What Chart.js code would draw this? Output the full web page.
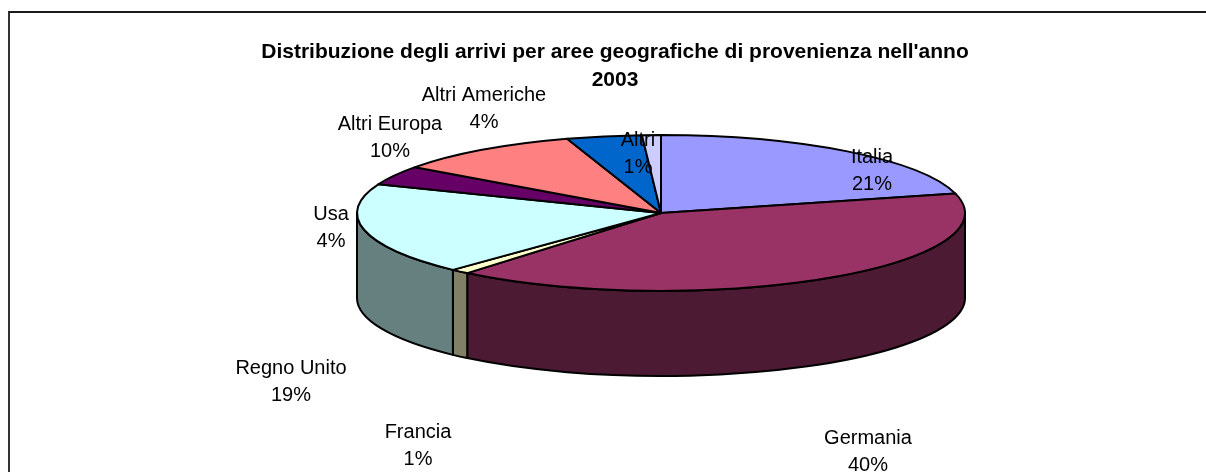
<!DOCTYPE html>
<html>
<head>
<meta charset="utf-8">
<script src="https://cdn.jsdelivr.net/npm/chart.js@4/dist/chart.umd.min.js"></script>
<style>
  html, body { margin: 0; padding: 0; background: #fff; overflow: hidden; }
  #wrap { position: absolute; left: 0; top: 0; width: 1206px; height: 472px; }
  #frame {
    position: absolute; left: 8px; top: 11px; width: 1300px; height: 600px;
    border-top: 2px solid #1a1a1a; border-left: 2px solid #333;
  }
</style>
</head>
<body>
<div id="frame"></div>
<div id="wrap"><canvas id="pie-chart"></canvas></div>
<script>
// Chart data
const categories = ['Italia', 'Germania', 'Francia', 'Regno Unito', 'Usa', 'Altri Europa', 'Altri Americhe', 'Altri'];
const shares = [21, 40, 1, 19, 4, 10, 4, 1];
const titleLines = ["Distribuzione degli arrivi per aree geografiche di provenienza nell'anno", '2003'];

// Styling (kept apart from the data)
const sliceColors = ['#9999FF', '#993366', '#FFFFCC', '#CCFFFF', '#660066', '#FF8080', '#0066CC', '#CCCCFF'];
const labelPos = [[872, 157], [868, 438], [418, 432], [291, 368], [331, 214], [390, 124], [484, 95], [638, 140]];
const DEPTH = 85;
const FONT = '"Liberation Sans", Arial, sans-serif';

function darken(hex, f) {
    const n = parseInt(hex.slice(1), 16);
    const r = Math.round(((n >> 16) & 255) * f);
    const g = Math.round(((n >> 8) & 255) * f);
    const b = Math.round((n & 255) * f);
    return 'rgb(' + r + ',' + g + ',' + b + ')';
}

// draws the pie as a tilted 3D disc using the arc geometry Chart.js computed
const pie3d = {
    id: 'pie3d',
    beforeDatasetsDraw(chart) {
        const ctx = chart.ctx;
        const area = chart.chartArea;
        const arcs = chart.getDatasetMeta(0).data;
        const rx = (area.right - area.left) / 2;

        ctx.save();
        ctx.lineWidth = 2;
        ctx.strokeStyle = '#000';
        ctx.lineJoin = 'round';

        // sides (front half only)
        arcs.forEach((arc, i) => {
            const a1 = Math.max(arc.startAngle, 0);
            const a2 = Math.min(arc.endAngle, Math.PI);
            if (a2 <= a1) return;
            const ry = arc.outerRadius;
            ctx.beginPath();
            ctx.ellipse(arc.x, arc.y, rx, ry, 0, a1, a2, false);
            ctx.ellipse(arc.x, arc.y + DEPTH, rx, ry, 0, a2, a1, true);
            ctx.closePath();
            ctx.fillStyle = darken(sliceColors[i], 0.5);
            ctx.fill();
            ctx.stroke();
        });

        // top faces
        arcs.forEach((arc, i) => {
            const ry = arc.outerRadius;
            ctx.beginPath();
            ctx.moveTo(arc.x, arc.y);
            ctx.ellipse(arc.x, arc.y, rx, ry, 0, arc.startAngle, arc.endAngle, false);
            ctx.closePath();
            ctx.fillStyle = sliceColors[i];
            ctx.fill();
            ctx.stroke();
        });
        ctx.restore();
        return false;
    },
    afterDraw(chart) {
        const ctx = chart.ctx;
        ctx.save();
        ctx.fillStyle = '#000';
        ctx.textAlign = 'center';
        ctx.textBaseline = 'middle';

        ctx.font = 'bold 21px ' + FONT;
        ctx.fillText(titleLines[0], 615, 52);
        ctx.fillText(titleLines[1], 615, 80);

        ctx.font = '20px ' + FONT;
        categories.forEach((name, i) => {
            const p = labelPos[i];
            ctx.fillText(name, p[0], p[1]);
            ctx.fillText(shares[i] + '%', p[0], p[1] + 27);
        });
        ctx.restore();
    }
};

const pieChart = new Chart(document.getElementById('pie-chart'), {
    type: 'pie',
    data: {
        labels: categories,
        datasets: [{
            data: shares,
            backgroundColor: sliceColors,
            borderWidth: 0
        }]
    },
    options: {
        responsive: true,
        maintainAspectRatio: false,
        animation: false,
        layout: {
            padding: { left: 357, right: 241, top: 135, bottom: 181 }
        },
        plugins: {
            legend: { display: false },
            tooltip: { enabled: false },
            title: { display: false }
        }
    },
    plugins: [pie3d]
});
</script>
</body>
</html>
